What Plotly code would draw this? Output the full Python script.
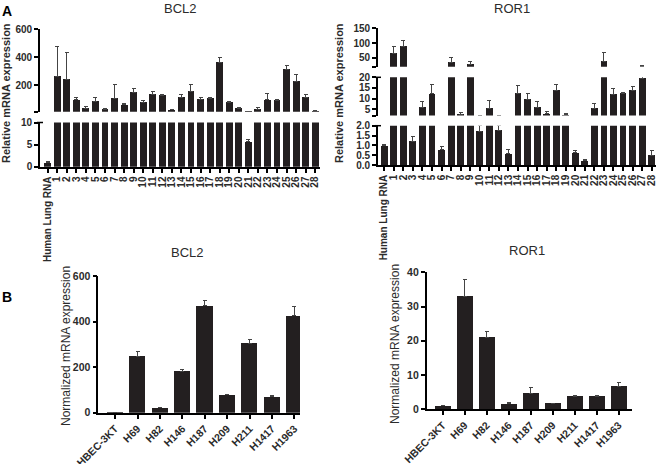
import plotly.graph_objects as go

W, H = 660, 464
FONT = "Arial, Liberation Sans, sans-serif"
BAR = "#231f20"
TXT = "#2b2b2b"

# panel A: tumour samples vs human lung RNA
cats_a = ["Human Lung RNA"] + [str(i) for i in range(1, 29)]
bcl2_a = [1.0, 262, 240, 95, 35, 82, 28, 106, 59, 148, 75, 134, 125, 23, 115,
          158, 96, 103, 365, 75, 35, 5.8, 26, 94, 89, 311, 226, 115, 16]
bcl2_a_err = [0.1, 217, 191, 20, 12, 33, 4, 99, 9, 26, 14, 24, 5, 2, 15,
              47, 17, 7, 33, 5, 4, 0.4, 11, 45, 5, 28, 49, 15, 5]
ror1_a = [1.0, 64, 89, 1.22, 6.0, 12.2, 0.8, 35, 2.4, 27, 1.73, 5.5, 1.78, 0.6, 12.4,
          9.6, 5.7, 2.8, 14, 2.3, 0.62, 0.24, 5.3, 38, 12, 12.6, 14, 19.6, 0.5]
ror1_a_err = [0.03, 25, 20, 0.25, 2.8, 4.6, 0.15, 15, 1.0, 11, 0.27, 3.7, 0.22, 0.2, 3.8,
              2.8, 3.0, 1.3, 2.6, 0.5, 0.12, 0.05, 2.4, 29, 2.7, 0.4, 1.8, 3.9, 0.25]

# panel B: cell lines
cats_b = ["HBEC-3KT", "H69", "H82", "H146", "H187", "H209", "H211", "H1417", "H1963"]
bcl2_b = [1, 247, 22, 182, 470, 78, 305, 71, 425]
bcl2_b_err = [0.2, 22, 3, 9, 24, 4, 17, 3, 40]
ror1_b = [1.0, 33, 21.1, 1.6, 4.6, 1.7, 3.7, 3.7, 6.7]
ror1_b_err = [0.1, 4.9, 1.5, 0.3, 1.7, 0.1, 0.3, 0.3, 1.0]


def px(x):
    return x / W


def py(y):
    return 1 - y / H


def bars(vals, errs, xa, ya, width):
    return go.Bar(
        x=list(range(len(vals))), y=vals, xaxis=xa, yaxis=ya, width=width,
        marker=dict(color=BAR, line=dict(width=0)),
        error_y=dict(type="data", array=errs, arrayminus=[0] * len(errs),
                     symmetric=False, color="#444444", thickness=1, width=2),
        hoverinfo="skip",
    )


fig = go.Figure()
# A BCL2: y (0-10), y2 (10-600)
fig.add_trace(bars(bcl2_a, bcl2_a_err, "x", "y", 0.72))
fig.add_trace(bars(bcl2_a, bcl2_a_err, "x", "y2", 0.72))
# A ROR1: y3 (0-2), y4 (2-20), y5 (20-150)
for ya in ["y3", "y4", "y5"]:
    fig.add_trace(bars(ror1_a, ror1_a_err, "x2", ya, 0.72))
# B
fig.add_trace(bars(bcl2_b, bcl2_b_err, "x3", "y6", 0.72))
fig.add_trace(bars(ror1_b, ror1_b_err, "x4", "y7", 0.7))


def ax_common(size):
    return dict(showline=True, linecolor="black", linewidth=1.6, ticks="outside",
                ticklen=4, tickwidth=1.5, tickcolor="black", showgrid=False,
                zeroline=False, fixedrange=True, automargin=False,
                tickfont=dict(family=FONT, size=size, color=TXT, weight="bold"))


def yax(dom, rng, anchor, vals, texts, size=10):
    return dict(domain=[py(dom[0]), py(dom[1])], range=rng, anchor=anchor,
                tickmode="array", tickvals=vals, ticktext=texts, **ax_common(size))


def xax(dom, rng, anchor, labels, angle, size=10):
    return dict(domain=[px(dom[0]), px(dom[1])], range=rng, anchor=anchor,
                tickmode="array", tickvals=list(range(len(labels))), ticktext=labels,
                tickangle=angle, **ax_common(size))


fig.update_layout(
    width=W, height=H, margin=dict(l=0, r=0, t=0, b=0, autoexpand=False),
    plot_bgcolor="white", paper_bgcolor="white", showlegend=False, bargap=0,
    xaxis=xax((40, 320), [-0.8, 28.5], "y", cats_a, -90),
    yaxis=yax((166.7, 122.5), [0, 10], "x", [0, 5, 10], ["0", "5", "10"]),
    yaxis2=yax((111.7, 29.3), [10, 600], "x", [10, 200, 400, 600], ["", "200", "400", "600"]),
    xaxis2=xax((378, 656), [-0.65, 28.45], "y3", cats_a, -90),
    yaxis3=yax((165, 125.7), [0, 2], "x2", [0, 0.5, 1, 1.5, 2], ["0.0", "0.5", "1.0", "1.5", "2.0"]),
    yaxis4=yax((115.5, 77.3), [2, 20], "x2", [2, 5, 10, 15, 20], ["", "5", "10", "15", "20"]),
    yaxis5=yax((66.7, 28.3), [20, 150], "x2", [20, 50, 100, 150], ["", "50", "100", "150"]),
    xaxis3=xax((98.3, 300), [-0.75, 8.25], "y6", cats_b, -45, 10.5),
    yaxis6=yax((412.7, 276), [0, 600], "x3", [0, 200, 400, 600], ["0", "200", "400", "600"], 10.5),
    xaxis4=xax((426.7, 632), [-0.73, 8.6], "y7", cats_b, -45, 10.5),
    yaxis7=yax((409.3, 272.3), [0, 40], "x4", [0, 10, 20, 30, 40], ["0", "10", "20", "30", "40"], 10.5),
)

# small T caps at the top of each lower segment of the broken axes
shapes = []
for ax_x, y_top in [(40, 122.5), (378, 125.7), (378, 77.3)]:
    shapes.append(dict(type="line", xref="paper", yref="paper",
                       x0=px(ax_x - 3), x1=px(ax_x + 3), y0=py(y_top), y1=py(y_top),
                       line=dict(color="black", width=1.5)))
fig.update_layout(shapes=shapes)


def note(text, x, y, size, bold=False, angle=0, color=TXT):
    fig.add_annotation(text=text, x=px(x), y=py(y), xref="paper", yref="paper",
                       showarrow=False, textangle=angle, xanchor="center", yanchor="middle",
                       font=dict(family=FONT, size=size, color=color,
                                 weight="bold" if bold else "normal"))


note("A", 7, 11, 14, bold=True, color="black")
note("B", 7, 297, 14, bold=True, color="black")
note("BCL2", 180, 8, 13)
note("ROR1", 512, 8, 13)
note("BCL2", 187, 253, 13)
note("ROR1", 527, 250, 13)
note("Relative mRNA expression", 6, 93, 11, bold=True, angle=-90)
note("Relative mRNA expression", 339, 93, 11, bold=True, angle=-90)
note("Normalized mRNA expression", 66, 346, 12, angle=-90)
note("Normalized mRNA expression", 395, 344, 12, angle=-90)

# the page body has a default 8px margin; drop it so the figure sits at 0,0
fig.write_html("out.html", config={"displayModeBar": False},
               post_script="document.body.style.margin='0';")
